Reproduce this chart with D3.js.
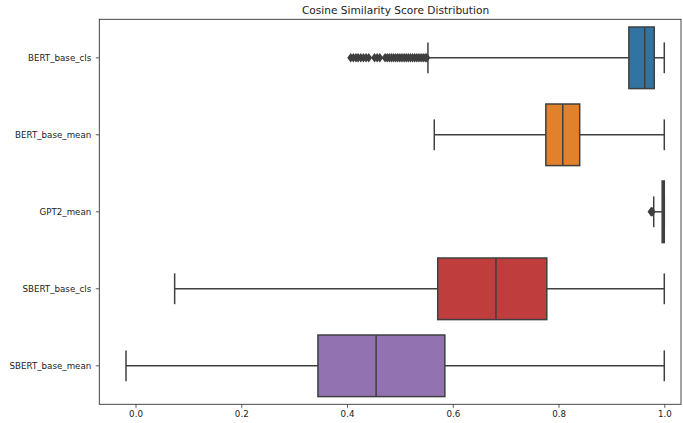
<!DOCTYPE html>
<html><head><meta charset="utf-8">
<script src="https://cdn.jsdelivr.net/npm/d3@7"></script>
<style>body{margin:0;background:#fff}svg{display:block}</style>
</head><body>
<svg id="c" width="683" height="423"></svg>
<script>
const categories = ["BERT_base_cls","BERT_base_mean","GPT2_mean","SBERT_base_cls","SBERT_base_mean"];
const colors = ["#3274a1","#e1812c","#3a923a","#c03d3e","#9372b2"];
const whiskerLow = [0.553, 0.565, 0.980, 0.074, -0.018];
const q1 =        [0.933, 0.776, 0.996, 0.5715, 0.345];
const median =    [0.963, 0.808, 0.999, 0.6816, 0.455];
const q3 =        [0.981, 0.840, 1.000, 0.7778, 0.585];
const whiskerHigh=[1.000, 1.000, 1.000, 1.000, 1.000];
const fliersBERTcls = [0.407,0.412,0.417,0.421,0.426,0.431,0.436,0.441,0.452,0.457,0.462,0.472,0.476,0.480,0.484,0.488,0.492,0.496,0.500,0.504,0.508,0.512,0.516,0.520,0.524,0.528,0.532,0.536,0.540,0.544,0.548,0.551];
const fliersGPT2 = [0.975,0.976,0.977];
const fliers = [fliersBERTcls, [], fliersGPT2, [], []];
const xTicks = [0.0,0.2,0.4,0.6,0.8,1.0];

const svg = d3.select("#c");
const L=99.3, R=681, T=19.3, B=404.3;
const x = d3.scaleLinear().domain([-0.0685,1.0316]).range([L,R]);
const y = d3.scaleBand().domain(categories).range([T,B]);
const lineCol = "#3f3f3f";
const font = "DejaVu Sans, sans-serif";

const bw = y.bandwidth()*0.8;
categories.forEach((c,i)=>{
  const cy = y(c)+y.bandwidth()/2;
  const g = svg.append("g");
  g.append("line").attr("x1",x(whiskerLow[i])).attr("x2",x(q1[i])).attr("y1",cy).attr("y2",cy).attr("stroke",lineCol).attr("stroke-width",1.5);
  g.append("line").attr("x1",x(q3[i])).attr("x2",x(whiskerHigh[i])).attr("y1",cy).attr("y2",cy).attr("stroke",lineCol).attr("stroke-width",1.5);
  [whiskerLow[i],whiskerHigh[i]].forEach(v=>{
    g.append("line").attr("x1",x(v)).attr("x2",x(v)).attr("y1",cy-bw/4).attr("y2",cy+bw/4).attr("stroke",lineCol).attr("stroke-width",1.5);
  });
  g.append("rect").attr("x",x(q1[i])).attr("y",cy-bw/2).attr("width",Math.max(0.5,x(q3[i])-x(q1[i]))).attr("height",bw)
    .attr("fill",colors[i]).attr("stroke",lineCol).attr("stroke-width",1.5);
  g.append("line").attr("x1",x(median[i])).attr("x2",x(median[i])).attr("y1",cy-bw/2).attr("y2",cy+bw/2).attr("stroke",lineCol).attr("stroke-width",1.5);
  fliers[i].forEach(v=>{
    g.append("path").attr("d",d3.symbol().type(d3.symbolDiamond).size(32)())
      .attr("transform",`translate(${x(v)},${cy}) scale(1.15,0.9)`).attr("fill",lineCol);
  });
});

svg.append("rect").attr("x",L).attr("y",T).attr("width",R-L).attr("height",B-T).attr("fill","none").attr("stroke","#333").attr("stroke-width",0.9);

const xa = svg.append("g").attr("transform",`translate(0,${B})`)
  .call(d3.axisBottom(x).tickValues(xTicks).tickFormat(d3.format(".1f")).tickSize(3.5).tickPadding(3.5));
xa.select(".domain").remove();
xa.selectAll("line").attr("stroke","#333").attr("stroke-width",0.8);
xa.selectAll("text").attr("font-family",font).attr("font-size","8.7px").attr("fill","#222");

const ya = svg.append("g").attr("transform",`translate(${L},0)`)
  .call(d3.axisLeft(y).tickSize(3.5).tickPadding(4.5));
ya.select(".domain").remove();
ya.selectAll("line").attr("stroke","#333").attr("stroke-width",0.8);
ya.selectAll("text").attr("font-family",font).attr("font-size","8.7px").attr("fill","#222");

svg.append("text").attr("x",395.5).attr("y",T-5).attr("text-anchor","middle")
  .attr("font-family",font).attr("font-size","10.6px").attr("fill","#222").text("Cosine Similarity Score Distribution");
</script>
</body></html>
